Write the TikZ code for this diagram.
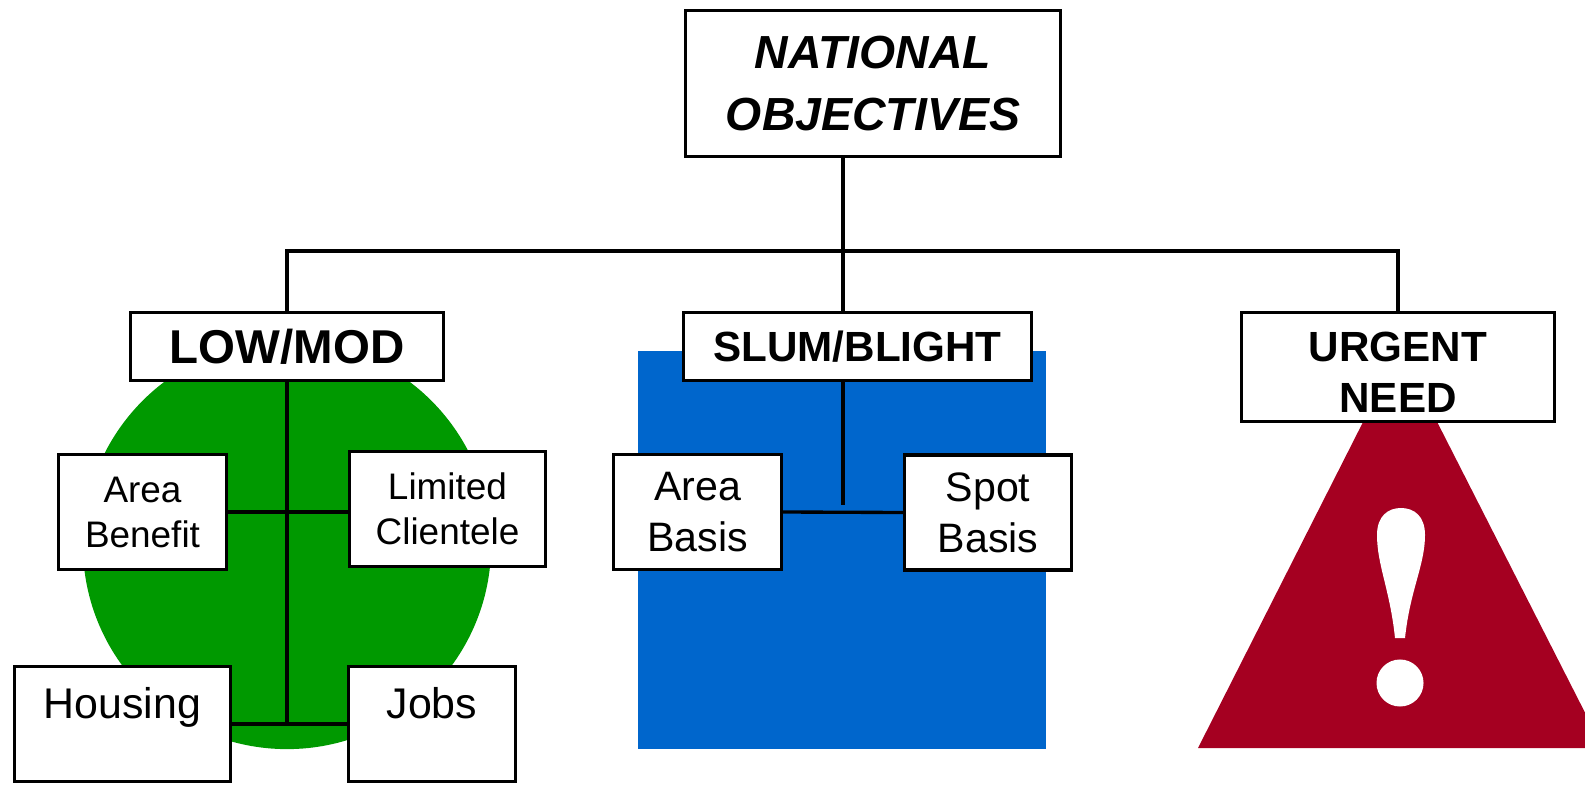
\documentclass[tikz,border=0pt]{standalone}
\usepackage{fontspec}
\setmainfont{Liberation Sans}
\definecolor{lowgreen}{RGB}{0,153,0}
\definecolor{slumblue}{RGB}{0,102,204}
\definecolor{urgentred}{RGB}{165,0,33}
\begin{document}
\begin{tikzpicture}[x=0.01cm, y=-0.01cm,
	box/.style = {draw, fill=white, line width=0.95pt, rectangle, inner sep=0pt, align=center},
	head/.style = {box, font=\fontsize{12}{14.5}\selectfont\bfseries},
	sub/.style = {box, minimum width=1.68cm, minimum height=1.15cm},
	wire/.style = {line width=0.95pt}]

\clip (0,0) rectangle (1585,785);

% backgrounds
\fill[lowgreen] (287,545) circle [radius=2.04cm];
\fill[slumblue] (638,351) rectangle (1046,749);
\fill[urgentred] (1400,349) -- (1603,748) -- (1198,748) -- cycle;
\fill[white] (1395,638) .. controls (1390,590) and (1377,565) .. (1377,535)
	.. controls (1377,516) and (1388,508) .. (1401,508)
	.. controls (1414,508) and (1425,516) .. (1425,535)
	.. controls (1425,565) and (1410,590) .. (1405,638) -- cycle;
\fill[white] (1400,683) circle [radius=0.235cm];

\node[box, minimum width=3.75cm, minimum height=1.46cm, font=\fontsize{13.2}{17.4}\selectfont\bfseries\itshape] (natobj) at (873,83.5) {NATIONAL\\OBJECTIVES};
\node[head, minimum width=3.13cm, minimum height=0.68cm, font=\fontsize{13.5}{16}\selectfont\bfseries] (lowmod) at (287,346.5) {LOW/MOD};
\node[head, minimum width=3.48cm, minimum height=0.68cm] (slum) at (857.5,346.5) {SLUM/BLIGHT};
\node[head, minimum width=3.13cm, minimum height=1.09cm, text height=26pt, text depth=0pt] (urgent) at (1398,367) {URGENT\\NEED};

\node[sub, font=\fontsize{10.5}{12.8}\selectfont] (areaben) at (142.5,512) {Area\\Benefit};
\node[sub, minimum width=1.96cm, font=\fontsize{10.5}{12.8}\selectfont] (limcli) at (447.5,509) {Limited\\Clientele};
\node[sub, minimum width=2.16cm, font=\fontsize{12.2}{14}\selectfont, text height=9pt, text depth=12.4pt] (housing) at (122.5,724) {Housing};
\node[sub, minimum width=1.67cm, font=\fontsize{12.2}{14}\selectfont, text height=9pt, text depth=12.4pt] (jobs) at (432,724) {Jobs};
\node[sub, font=\fontsize{11.7}{14.5}\selectfont] (areabas) at (697.5,512) {Area\\Basis};
\node[sub, minimum width=1.67cm, font=\fontsize{11.7}{14.5}\selectfont] (spotbas) at (988,512.5) {Spot\\Basis};

\coordinate (bus) at (843,251);
\coordinate (slumend) at (843,505);

\draw[wire] (natobj.south -| bus) -- (slum.north -| bus);
\draw[wire] (lowmod.north) |- (bus) -| (urgent.north);
\draw[wire] (lowmod.south) -- (lowmod.south |- housing.east);
\draw[wire] (areaben.east) -- (areaben.east -| limcli.west);
\draw[wire] (housing.east) -- (jobs.west);
\draw[wire] (slum.south -| bus) -- (slumend);
\draw[wire] (areabas.east) -- (spotbas.west);
\end{tikzpicture}
\end{document}
